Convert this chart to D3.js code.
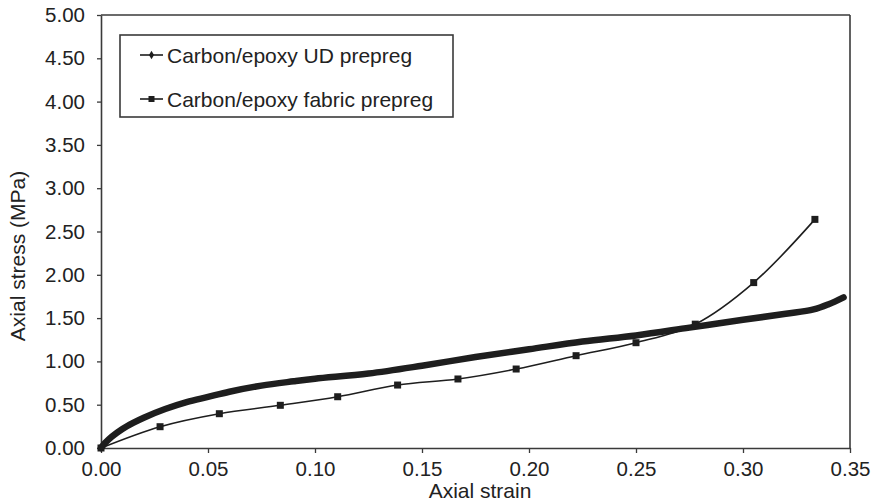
<!DOCTYPE html>
<html>
<head>
<meta charset="utf-8">
<script src="https://cdn.jsdelivr.net/npm/d3@7"></script>
<style>
  html, body { margin: 0; padding: 0; background: #fff; }
  svg { display: block; font-family: "Liberation Sans", Arial, sans-serif; }
</style>
</head>
<body>
<svg id="chart" width="873" height="503"></svg>
<script>
// ---- data ----
const seriesNames = ["Carbon/epoxy UD prepreg", "Carbon/epoxy fabric prepreg"];
const udStrain = [0, 0.002, 0.005, 0.01, 0.015, 0.02, 0.03, 0.04, 0.05, 0.06, 0.075, 0.09, 0.10, 0.125, 0.15, 0.175, 0.20, 0.225, 0.25, 0.275, 0.30, 0.32, 0.333, 0.34, 0.347];
const udStress = [0, 0.06, 0.13, 0.22, 0.29, 0.35, 0.45, 0.53, 0.59, 0.65, 0.72, 0.77, 0.80, 0.86, 0.95, 1.05, 1.14, 1.23, 1.30, 1.39, 1.48, 1.55, 1.60, 1.66, 1.74];
const fabricStrain = [0, 0.0276, 0.0553, 0.0838, 0.1106, 0.1386, 0.1668, 0.194, 0.222, 0.250, 0.2777, 0.305, 0.3336];
const fabricStress = [0, 0.246, 0.396, 0.493, 0.592, 0.727, 0.797, 0.912, 1.066, 1.216, 1.43, 1.91, 2.64];
const xTicks = [0, 0.05, 0.10, 0.15, 0.20, 0.25, 0.30, 0.35];
const yTicks = [0, 0.5, 1.0, 1.5, 2.0, 2.5, 3.0, 3.5, 4.0, 4.5, 5.0];
const xTitle = "Axial strain";
const yTitle = "Axial stress (MPa)";

// ---- layout ----
const svg = d3.select("#chart");
const x = d3.scaleLinear().domain([0, 0.35]).range([101, 850]);
const y = d3.scaleLinear().domain([0, 5]).range([448, 15]);
const ink = "#1e1e1e";
const axisCol = "#3a3a3a";

// frame (top and right)
svg.append("line").attr("x1", x(0)).attr("x2", x(0.35)).attr("y1", y(5)).attr("y2", y(5))
  .attr("stroke", axisCol).attr("stroke-width", 1.6);
svg.append("line").attr("x1", x(0.35)).attr("x2", x(0.35)).attr("y1", y(5)).attr("y2", y(0))
  .attr("stroke", axisCol).attr("stroke-width", 1.6);

// axes
const gx = svg.append("g").attr("transform", `translate(0,${y(0)})`)
  .call(d3.axisBottom(x).tickValues(xTicks).tickFormat(d3.format(".2f")).tickSize(5).tickSizeOuter(0).tickPadding(8));
const gy = svg.append("g").attr("transform", `translate(${x(0)},0)`)
  .call(d3.axisLeft(y).tickValues(yTicks).tickFormat(d3.format(".2f")).tickSize(4).tickSizeOuter(0).tickPadding(12));
[gx, gy].forEach(g => {
  g.select(".domain").attr("stroke", axisCol).attr("stroke-width", 1.6);
  g.selectAll(".tick line").attr("stroke", axisCol).attr("stroke-width", 1.3);
  g.selectAll(".tick text").attr("fill", "#222").style("font-size", "20.5px")
    .style("font-family", "'Liberation Sans', Arial, sans-serif");
});
gx.selectAll(".tick text").attr("dy", "0.72em");

// titles
svg.append("text").attr("x", 480).attr("y", 498).attr("text-anchor", "middle")
  .attr("fill", "#222").style("font-size", "21px").text(xTitle);
svg.append("text").attr("transform", "translate(25,256) rotate(-90)").attr("text-anchor", "middle")
  .attr("fill", "#222").style("font-size", "21px").text(yTitle);

// UD series: thick dense-marker look
const udData = udStrain.map((s, i) => [s, udStress[i]]);
const fabData = fabricStrain.map((s, i) => [s, fabricStress[i]]);
const lineGen = d3.line().x(d => x(d[0])).y(d => y(d[1])).curve(d3.curveCatmullRom.alpha(0.5));

svg.append("path").datum(udData).attr("d", lineGen)
  .attr("fill", "none").attr("stroke", ink).attr("stroke-width", 6.5).attr("stroke-linecap", "round");

// fabric series
svg.append("path").datum(fabData).attr("d", lineGen)
  .attr("fill", "none").attr("stroke", ink).attr("stroke-width", 1.6);
svg.selectAll("rect.fab").data(fabData).enter().append("rect").attr("class", "fab")
  .attr("x", d => x(d[0]) - 3.5).attr("y", d => y(d[1]) - 3.5)
  .attr("width", 7).attr("height", 7).attr("fill", ink);

// legend
const lg = svg.append("g");
lg.append("rect").attr("x", 120).attr("y", 35).attr("width", 333).attr("height", 82)
  .attr("fill", "#fff").attr("stroke", axisCol).attr("stroke-width", 1.6);
const rowsY = [55, 99];
rowsY.forEach((ry, i) => {
  lg.append("line").attr("x1", 140).attr("x2", 163).attr("y1", ry).attr("y2", ry)
    .attr("stroke", ink).attr("stroke-width", 1.6);
  if (i === 0) {
    lg.append("path").attr("d", d3.symbol(d3.symbolDiamond, 22)()).attr("transform", `translate(151.5,${ry})`).attr("fill", ink);
  } else {
    lg.append("rect").attr("x", 148.5).attr("y", ry - 3).attr("width", 6).attr("height", 6).attr("fill", ink);
  }
  lg.append("text").attr("x", 167).attr("y", ry + 7.5).attr("fill", "#222")
    .style("font-size", "21px").text(seriesNames[i]);
});
</script>
</body>
</html>
